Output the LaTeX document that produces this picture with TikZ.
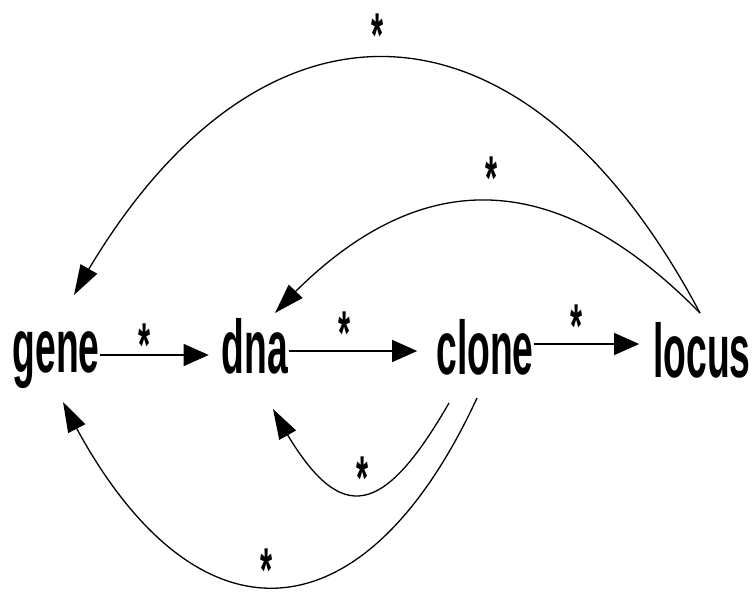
\documentclass[tikz,border=0pt]{standalone}
\usepackage{fontspec}
\setmainfont{Liberation Sans}
\usepackage{graphicx}
\usetikzlibrary{arrows.meta,bending}
\newcommand{\starmark}{\raisebox{-0.44em}[0.28em][0pt]{\scalebox{0.5}[1]{*}}}
\begin{document}
\begin{tikzpicture}[x=1pt,y=-1pt,
  word/.style={anchor=base,inner sep=0pt,font=\fontsize{76}{80}\selectfont\bfseries},
  ast/.style={anchor=north,inner sep=0pt,font=\fontsize{62}{64}\selectfont\bfseries},
  arr/.style={line width=1.3pt,-{Triangle[length=25pt,width=22pt]}},
  carr/.style={line width=1.3pt,-{Triangle[length=30pt,width=19pt]}}]
\useasboundingbox (0,0) rectangle (754,591);
\node[word] (gene)  at (56,372)  {\scalebox{0.49}[1]{gene}};
\node[word] (dna)   at (255,373) {\scalebox{0.49}[1]{dna}};
\node[word] (clone) at (485,374) {\scalebox{0.49}[1]{clone}};
\node[word] (locus) at (702,377) {\scalebox{0.49}[1]{locus}};
% straight arrows
\draw[arr] ([yshift=17pt]gene.base east) -- ([xshift=-13pt,yshift=18pt]dna.base west);
\draw[arr] ([xshift=1pt,yshift=22pt]dna.base east) -- ([xshift=-19pt,yshift=23pt]clone.base west);
\draw[arr] ([yshift=30pt]clone.base east) -- ([xshift=-14pt,yshift=33pt]locus.base west);
% curved arrows
\draw[carr] ([shift={(-2pt,64pt)}]locus.base) .. controls (520,-26) and (250,-26) .. ([shift={(18pt,77pt)}]gene.base);
\draw[carr] ([shift={(-2pt,64pt)}]locus.base) .. controls (540,150) and (400,175) .. ([shift={(20pt,60pt)}]dna.base);
\draw[carr] ([shift={(-36pt,-29pt)}]clone.base) .. controls (378,526) and (335,526) .. ([shift={(18pt,-36pt)}]dna.base);
\draw[carr] ([shift={(-8pt,-24pt)}]clone.base) .. controls (360,651) and (185,651) .. ([shift={(7pt,-30pt)}]gene.base);
% labels
\node[ast] (s1) at (145,322) {\starmark};
\node[ast] (s2) at (345,310) {\starmark};
\node[ast] (s3) at (577,303) {\starmark};
\node[ast] (s4) at (378,12)  {\starmark};
\node[ast] (s5) at (492,155) {\starmark};
\node[ast] (s6) at (363,455) {\starmark};
\node[ast] (s7) at (267,547) {\starmark};
\end{tikzpicture}
\end{document}
